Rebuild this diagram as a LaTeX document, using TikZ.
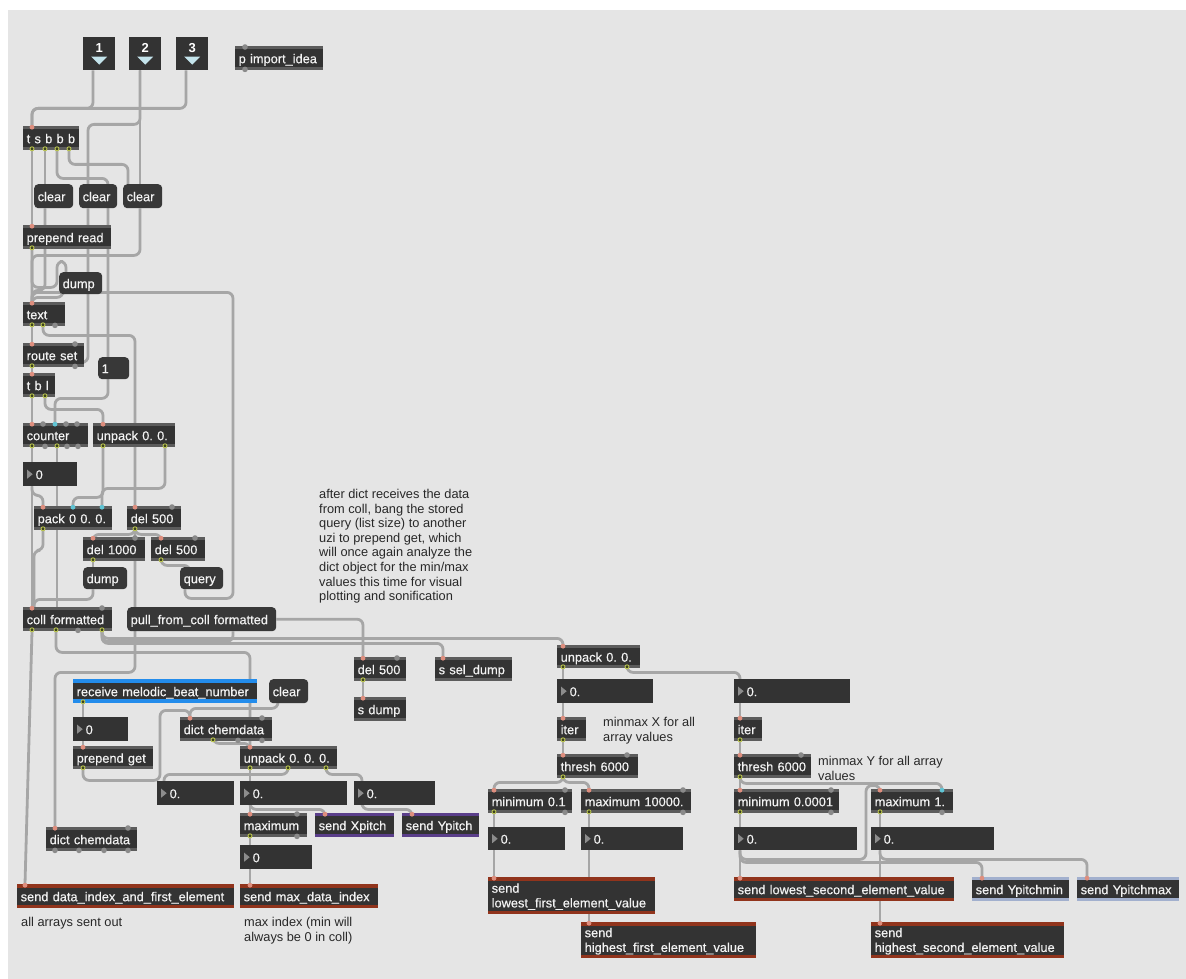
\documentclass[tikz,border=0pt]{standalone}
\usepackage{fontspec}
\setmainfont{Liberation Sans}
\newfontfamily\patchfont{Liberation Sans}[FakeBold=0.45]
\usepackage{tikz}
\definecolor{canvas_gray}{RGB}{229,229,229}
\definecolor{box_dark}{RGB}{51,51,51}
\definecolor{msg_dark}{RGB}{56,56,56}
\definecolor{box_text}{RGB}{242,242,242}
\definecolor{strip_gray}{RGB}{92,92,92}
\definecolor{cord_gray}{RGB}{166,166,166}
\definecolor{send_red}{RGB}{145,52,28}
\definecolor{recv_blue}{RGB}{35,140,235}
\definecolor{pitch_purple}{RGB}{90,62,138}
\definecolor{ypitch_blue}{RGB}{162,176,206}
\definecolor{hot_in}{RGB}{222,142,126}
\definecolor{cold_in}{RGB}{96,196,212}
\definecolor{out_green}{RGB}{188,198,82}
\definecolor{out_dark}{RGB}{60,66,30}
\definecolor{port_gray}{RGB}{138,138,138}
\definecolor{tri_cyan}{RGB}{196,228,236}
\definecolor{tri_gray}{RGB}{140,140,140}
\definecolor{cmt_text}{RGB}{40,40,40}
\pgfdeclarelayer{canvas}
\pgfdeclarelayer{cords}
\pgfsetlayers{canvas,cords,main}
\newcommand{\boxstrips}[2]{%
  \fill[#1] (path picture bounding box.north west) rectangle ([yshift=-#2]path picture bounding box.north east);
  \fill[#1] (path picture bounding box.south west) rectangle ([yshift=#2]path picture bounding box.south east);}
\frenchspacing

\begin{document}
\begin{tikzpicture}[x=1pt,y=-1pt]
    \tikzstyle{patchbox}=[anchor=north west, inner xsep=3.5pt, inner ysep=0pt, minimum height=24pt, text height=11.5pt, text depth=1.5pt, align=left, text=box_text, font=\patchfont\fontsize{12.8}{14.7}\selectfont\frenchspacing]
    \tikzstyle{obj}=[patchbox, fill=box_dark, path picture={\boxstrips{strip_gray}{3pt}}]
    \tikzstyle{msg}=[patchbox, fill=msg_dark, rounded corners=4pt]
    \tikzstyle{num}=[patchbox, fill=box_dark, execute at begin node={\hspace*{9pt}}, path picture={\fill[tri_gray] ([xshift=4pt,yshift=4.5pt]path picture bounding box.west) -- ([xshift=4pt,yshift=-4.5pt]path picture bounding box.west) -- ([xshift=9.5pt]path picture bounding box.west) -- cycle;}]
    \tikzstyle{sendbox}=[patchbox, fill=box_dark, path picture={\boxstrips{send_red}{3.5pt}}]
    \tikzstyle{recvbox}=[patchbox, fill=box_dark, path picture={\boxstrips{recv_blue}{4pt}}]
    \tikzstyle{pitchbox}=[patchbox, fill=box_dark, path picture={\boxstrips{pitch_purple}{3pt}}]
    \tikzstyle{ypbox}=[patchbox, fill=box_dark, path picture={\boxstrips{ypitch_blue}{3pt}}]
    \tikzstyle{inbox}=[anchor=north west, fill=box_dark, minimum width=32pt, minimum height=33pt, inner sep=0pt, text=white, text height=10pt, text depth=13pt, font=\bfseries\fontsize{13}{14}\selectfont, path picture={\fill[tri_cyan] ([xshift=-8pt,yshift=-3pt]path picture bounding box.center) -- ([xshift=8pt,yshift=-3pt]path picture bounding box.center) -- ([yshift=-11pt]path picture bounding box.center) -- cycle;}]
    \tikzstyle{cmt}=[anchor=north west, inner sep=0pt, align=left, text=cmt_text, font=\fontsize{12.8}{14.6}\selectfont\frenchspacing]
    \tikzstyle{cord}=[draw=cord_gray, line width=2.8pt, rounded corners=6pt]

    \useasboundingbox (0,0) rectangle (1186,979);
    \begin{pgfonlayer}{canvas}
      \fill[white] (0,0) rectangle (1186,979);
      \fill[canvas_gray] (8,10) rectangle (1186,979);
    \end{pgfonlayer}

    % inlets and loading chain
    \node[inbox] (in1) at (83,37) {1};
    \node[inbox] (in2) at (129,37) {2};
    \node[inbox] (in3) at (176,37) {3};
    \node[obj, text width=81pt] (pimport) at (235,46) {p import\_idea};
    \node[obj, text width=49pt] (tsbbb) at (23,126) {t s b b b};
    \node[msg, text width=32pt] (clear1) at (34,184) {clear};
    \node[msg, text width=31pt] (clear2) at (79,184) {clear};
    \node[msg, text width=32pt] (clear3) at (123,184) {clear};
    \node[obj, text width=81pt] (prepread) at (23,225) {prepend read};
    \node[msg, text width=36pt, minimum height=22pt] (dump1) at (59,272) {dump};
    \node[obj, text width=35pt] (textobj) at (23,302) {text};
    \node[obj, text width=54pt] (routeset) at (23,343) {route set};
    \node[msg, text width=24pt, minimum height=22pt] (one) at (98,357) {1};
    \node[obj, text width=25pt] (tbl) at (23,373) {t b l};
    \node[obj, text width=58pt] (counter) at (23,423) {counter};
    \node[obj, text width=75pt] (unpack1) at (93,423) {unpack 0. 0.};
    \node[num, text width=47pt] (numcount) at (23,462) {0};
    \node[obj, text width=71pt] (pack) at (34,506) {pack 0 0. 0.};
    \node[obj, text width=47pt] (del1) at (127,506) {del 500};
    \node[obj, text width=55pt] (del1000) at (83,537) {del 1000};
    \node[obj, text width=47pt] (del2) at (151,537) {del 500};
    \node[msg, text width=37pt, minimum height=22pt] (dump2) at (83,567) {dump};
    \node[msg, text width=36pt, minimum height=22pt] (query) at (180,567) {query};
    \node[obj, text width=82pt] (coll) at (23,607) {coll formatted};
    \node[msg, text width=142pt] (pull) at (127,607) {pull\_from\_coll formatted};
    \node[cmt] (note) at (319,489) {after dict receives the data\\from coll, bang the stored\\query (list size) to another\\uzi to prepend get, which\\will once again analyze the\\dict object for the min/max\\values this time for visual\\plotting and sonification};

    % dict and index part
    \node[obj, text width=45pt] (del3) at (354,657) {del 500};
    \node[obj, text width=45pt] (sdump) at (354,697) {s dump};
    \node[obj, text width=70pt] (ssel) at (435,657) {s sel\_dump};
    \node[recvbox, text width=177pt] (recv) at (73,679) {receive melodic\_beat\_number};
    \node[msg, text width=32pt] (clear4) at (269,679) {clear};
    \node[num, text width=48pt] (numrecv) at (73,717) {0};
    \node[obj, text width=85pt] (dict1) at (180,717) {dict chemdata};
    \node[obj, text width=73pt, minimum height=23pt] (prepget) at (73,746) {prepend get};
    \node[obj, text width=90pt, minimum height=23pt] (unpack3) at (240,746) {unpack 0. 0. 0.};
    \node[num, text width=70pt] (numa) at (157,781) {0.};
    \node[num, text width=100pt] (numb) at (240,781) {0.};
    \node[num, text width=74pt] (numc) at (354,781) {0.};
    \node[obj, text width=60pt] (maximum) at (240,813) {maximum};
    \node[pitchbox, text width=72pt] (sxpitch) at (315,813) {send Xpitch};
    \node[pitchbox, text width=70pt] (sypitch) at (402,813) {send Ypitch};
    \node[obj, text width=84pt] (dict2) at (46,827) {dict chemdata};
    \node[num, text width=65pt] (nummax) at (240,845) {0};
    \node[sendbox, text width=210pt] (sdata) at (17,884) {send data\_index\_and\_first\_element};
    \node[sendbox, text width=131pt] (smax) at (240,884) {send max\_data\_index};
    \node[cmt] (note2) at (21,917.5) {all arrays sent out};
    \node[cmt] (note3) at (244,917) {max index (min will\\always be 0 in coll)};

    % min/max of both elements
    \node[obj, text width=76pt, minimum height=23pt] (unpack2) at (557,645) {unpack 0. 0.};
    \node[num, text width=89pt] (numx) at (557,679) {0.};
    \node[num, text width=109pt] (numy) at (734,679) {0.};
    \node[obj, text width=22pt] (iterx) at (557,717) {iter};
    \node[obj, text width=21pt] (itery) at (734,717) {iter};
    \node[obj, text width=74pt] (threshx) at (557,754) {thresh 6000};
    \node[obj, text width=70pt] (threshy) at (734,754) {thresh 6000};
    \node[cmt] (notex) at (603,717.5) {minmax X for all\\array values};
    \node[cmt] (notey) at (818,756.5) {minmax Y for all array\\values};
    \node[obj, text width=77pt] (minx) at (488,789) {minimum 0.1};
    \node[obj, text width=103pt] (maxx) at (581,789) {maximum 10000.};
    \node[obj, text width=98pt] (miny) at (734,789) {minimum 0.0001};
    \node[obj, text width=75pt] (maxy) at (871,789) {maximum 1.};
    \node[num, text width=70pt, minimum height=23pt] (numminx) at (488,827) {0.};
    \node[num, text width=95pt, minimum height=23pt] (nummaxx) at (581,827) {0.};
    \node[num, text width=116pt, minimum height=23pt] (numminy) at (734,827) {0.};
    \node[num, text width=116pt, minimum height=23pt] (nummaxy) at (871,827) {0.};
    \node[sendbox, text width=160pt, minimum height=37pt, text depth=17.5pt] (slowx) at (488,877) {send\\lowest\_first\_element\_value};
    \node[sendbox, text width=168pt, minimum height=36pt, text depth=17.5pt] (shighx) at (581,922) {send\\highest\_first\_element\_value};
    \node[sendbox, text width=213pt] (slowy) at (734,877) {send lowest\_second\_element\_value};
    \node[ypbox, text width=90pt] (sypmin) at (972,877) {send Ypitchmin};
    \node[ypbox, text width=95pt] (sypmax) at (1077,877) {send Ypitchmax};
    \node[sendbox, text width=186pt, minimum height=36pt, text depth=17.5pt] (shighy) at (871,922) {send\\highest\_second\_element\_value};

    \begin{pgfonlayer}{cords}
    \draw[cord] ([xshift=10pt]in1.south west) -- ++(0,38) -| ([xshift=9pt]tsbbb.north west);
    \draw[cord] ([xshift=10pt]in3.south west) -- ++(0,38) -| ([xshift=9pt]tsbbb.north west);
    \draw[cord] ([xshift=11pt]in2.south west) -- ++(0,54) -| ([xshift=9pt]clear2.north west);
    \draw[cord] ([xshift=11pt]in2.south west) -- ([xshift=17pt]clear3.north west);
    \draw[cord] ([xshift=9pt]tsbbb.south west) -- ([xshift=9pt]prepread.north west);
    \draw[cord] ([xshift=22pt]tsbbb.south west) -- ([xshift=11pt]clear1.north west);
    \draw[cord] ([xshift=34pt]tsbbb.south west) -- ++(0,28) -- ++(51,0) -- ++(0,220) -| ([xshift=32pt]counter.north west);
    \draw[cord] ([xshift=46pt]tsbbb.south west) -- ++(0,14) -| ([xshift=5pt]clear3.north west);
    \draw[cord] ([xshift=11pt]clear1.south west) -- ++(0,82) -| ([xshift=9pt]textobj.north west);
    \draw[cord] ([xshift=9pt]clear2.south west) |- ([xshift=-4pt,yshift=5pt]routeset.south east);
    \draw[cord] ([xshift=17pt]clear3.south west) -- ++(0,47) -| ([xshift=9pt]textobj.north west);
    \draw[cord] ([xshift=9pt]prepread.south west) -- ([xshift=9pt]textobj.north west);
    \draw[cord] ([xshift=9pt]prepread.south west) -- ++(0,38) -- ++(25,0) -- ++(0,-26) -| ([xshift=7pt]dump1.north west);
    \draw[cord] ([xshift=4pt]dump1.south west) -- ++(0,3) -| ([xshift=9pt]textobj.north west);
    \draw[cord] ([xshift=9pt]textobj.south west) -- ([xshift=9pt]routeset.north west);
    \draw[cord] ([xshift=20pt]textobj.south west) -- ++(0,9) -| ([xshift=8pt]del1.north west);
    \draw[cord] ([xshift=9pt]routeset.south west) -- ([xshift=9pt]tbl.north west);
    \draw[cord] ([xshift=9pt]tbl.south west) -- ([xshift=9pt]counter.north west);
    \draw[cord] ([xshift=22pt]tbl.south west) -- ++(0,12) -| ([xshift=10pt]unpack1.north west);
    \draw[cord] ([xshift=9pt]counter.south west) -- ([xshift=9pt]coll.north west);
    \draw[cord] ([xshift=9pt]numcount.south west) -- ++(0,9) -| ([xshift=9pt]pack.north west);
    \draw[cord] ([xshift=34pt]counter.south west) -- ([xshift=34pt]coll.north west);
    \draw[cord] ([xshift=10pt]unpack1.south west) -- ++(0,50) -| ([xshift=39pt]pack.north west);
    \draw[cord] ([xshift=72pt]unpack1.south west) -- ++(0,41) -| ([xshift=68pt]pack.north west);
    \draw[cord] ([xshift=9pt]pack.south west) -- ++(0,20) -| ([xshift=11pt]coll.north west);
    \draw[cord] ([xshift=8pt]del1.south west) -- ++(0,4) -| ([xshift=10pt]del1000.north west);
    \draw[cord] ([xshift=8pt]del1.south west) -- ++(0,4) -| ([xshift=10pt]del2.north west);
    \draw[cord] ([xshift=8pt]del1.south west) -- ++(0,142) -| ([xshift=9pt]dict2.north west);
    \draw[cord] ([xshift=10pt]del1000.south west) -- ([xshift=10pt]dump2.north west);
    \draw[cord] ([xshift=10pt]dump2.south west) -- ++(0,10) -| ([xshift=11pt]coll.north west);
    \draw[cord] ([xshift=10pt]del2.south west) -- ++(0,4) -| ([xshift=10pt]query.north west);
    \draw[cord] ([xshift=5pt]query.south west) -- ++(0,9) -- ++(48,0) -- ++(0,-306) -| ([xshift=9pt]textobj.north west);
    \draw[cord] ([xshift=9pt]coll.south west) -- ([xshift=8pt]sdata.north west);
    \draw[cord] ([xshift=33pt]coll.south west) -- ++(0,21) -| ([xshift=10pt]unpack3.north west);
    \draw[cord] ([xshift=79pt]coll.south west) -- ++(0,7) -| ([xshift=6pt]unpack2.north west);
    \draw[cord] ([xshift=79pt]coll.south west) -- ++(0,12) -| ([xshift=8pt]ssel.north west);
    \draw[cord] ([xshift=79pt]coll.south west) -- ++(0,10) -| ([xshift=106pt]pull.south west);
    \draw[cord] (pull.east) -| ([xshift=9pt]del3.north west);
    \draw[cord] ([xshift=9pt]del3.south west) -- ([xshift=9pt]sdump.north west);
    \draw[cord] ([xshift=10pt]recv.south west) -- ([xshift=10pt]numrecv.north west);
    \draw[cord] ([xshift=10pt]numrecv.south west) -- ([xshift=10pt]prepget.north west);
    \draw[cord] ([xshift=10pt]prepget.south west) -- ++(0,11) -- ++(77,0) -- ++(0,-70) -| ([xshift=10pt]dict1.north west);
    \draw[cord] ([xshift=9pt]clear4.south west) -- ++(0,5) -| ([xshift=10pt]dict1.north west);
    \draw[cord] ([xshift=33pt]dict1.south west) -- ++(0,2) -| ([xshift=10pt]unpack3.north west);
    \draw[cord] ([xshift=10pt]unpack3.south west) -- ([xshift=10pt]numb.north west);
    \draw[cord] ([xshift=48pt]unpack3.south west) -- ++(0,5) -| ([xshift=7pt]numa.north west);
    \draw[cord] ([xshift=86pt]unpack3.south west) -- ++(0,5) -| ([xshift=8pt]numc.north west);
    \draw[cord] ([xshift=10pt]numb.south west) -- ([xshift=10pt]maximum.north west);
    \draw[cord] ([xshift=10pt]numb.south west) -- ++(0,4) -| ([xshift=10pt]sxpitch.north west);
    \draw[cord] ([xshift=8pt]numc.south west) -- ++(0,4) -| ([xshift=10pt]sypitch.north west);
    \draw[cord] ([xshift=10pt]maximum.south west) -- ([xshift=10pt]nummax.north west);
    \draw[cord] ([xshift=10pt]nummax.south west) -- ([xshift=10pt]smax.north west);
    \draw[cord] ([xshift=6pt]unpack2.south west) -- ([xshift=6pt]numx.north west);
    \draw[cord] ([xshift=6pt]numx.south west) -- ([xshift=6pt]iterx.north west);
    \draw[cord] ([xshift=6pt]iterx.south west) -- ([xshift=6pt]threshx.north west);
    \draw[cord] ([xshift=70pt]unpack2.south west) -- ++(0,4) -| ([xshift=6pt]numy.north west);
    \draw[cord] ([xshift=6pt]numy.south west) -- ([xshift=6pt]itery.north west);
    \draw[cord] ([xshift=6pt]itery.south west) -- ([xshift=6pt]threshy.north west);
    \draw[cord] ([xshift=6pt]threshx.south west) -- ++(0,4) -| ([xshift=6pt]minx.north west);
    \draw[cord] ([xshift=6pt]threshx.south west) -- ++(0,4) -| ([xshift=8pt]maxx.north west);
    \draw[cord] ([xshift=6pt]minx.south west) -- ([xshift=6pt]slowx.north west);
    \draw[cord] ([xshift=8pt]maxx.south west) -- ([xshift=8pt]shighx.north west);
    \draw[cord] ([xshift=6pt]threshy.south west) -- ([xshift=6pt]miny.north west);
    \draw[cord] ([xshift=6pt]threshy.south west) -- ++(0,5) -| ([xshift=71pt]maxy.north west);
    \draw[cord] ([xshift=6pt]numminy.south west) -- ++(0,9) -- ++(126,0) -- ++(0,-74) -| ([xshift=9pt]maxy.north west);
    \draw[cord] ([xshift=6pt]miny.south west) -- ([xshift=6pt]slowy.north west);
    \draw[cord] ([xshift=6pt]numminy.south west) -- ++(0,12) -| ([xshift=10pt]sypmin.north west);
    \draw[cord] ([xshift=9pt]maxy.south west) -- ([xshift=9pt]shighy.north west);
    \draw[cord] ([xshift=9pt]nummaxy.south west) -- ++(0,9) -| ([xshift=10pt]sypmax.north west);
    \end{pgfonlayer}

    % ports
    \foreach \n/\d in {tsbbb/9, prepread/9, textobj/9, routeset/9, tbl/9, counter/9, unpack1/10, pack/9, del1/8, del1000/10, del2/10, coll/9, del3/9, sdump/9, ssel/8, prepget/10, dict1/10, unpack3/10, maximum/10, sxpitch/10, sypitch/10, dict2/9, sdata/8, smax/10, unpack2/6, iterx/6, itery/6, threshx/6, threshy/6, minx/6, maxx/8, miny/6, maxy/9, slowx/6, shighx/8, slowy/6, sypmin/10, sypmax/10, shighy/9}
      \fill[hot_in] ([xshift=\d pt,yshift=-1.2pt]\n.north west) circle (2.4pt);
    \foreach \n/\d in {counter/32, pack/39, pack/68, maxy/71}
      \fill[cold_in] ([xshift=\d pt,yshift=-1.2pt]\n.north west) circle (2.4pt);
    \foreach \n/\d in {pimport/10, routeset/52, counter/20, counter/43, counter/54, del1/45, del1000/52, del2/44, del3/43, dict1/82, dict2/82, maximum/57, threshx/70, threshy/67, minx/77, maxx/102, miny/97, coll/79}
      \fill[port_gray] ([xshift=\d pt,yshift=-1pt]\n.north west) circle (2.8pt);
    \foreach \n/\d in {tsbbb/9, tsbbb/22, tsbbb/34, tsbbb/46, prepread/9, textobj/9, textobj/20, routeset/9, tbl/9, tbl/22, counter/9, counter/34, unpack1/10, unpack1/72, pack/9, del1/8, del1000/10, del2/10, coll/9, coll/33, coll/79, del3/9, recv/10, prepget/10, dict1/33, unpack3/10, unpack3/48, unpack3/86, maximum/10, unpack2/6, unpack2/70, iterx/6, itery/6, threshx/6, threshy/6, minx/6, maxx/8, miny/6, maxy/9}
      \filldraw[fill=out_dark, draw=out_green, line width=0.9pt] ([xshift=\d pt,yshift=1.6pt]\n.south west) circle (2pt);
    \foreach \n/\d in {pimport/10, textobj/32, routeset/52, counter/22, counter/44, counter/55, coll/55, dict1/58, dict1/82, dict2/9, dict2/33, dict2/58, dict2/82, maximum/57, minx/77, maxx/102, miny/97, maxy/71}
      \fill[port_gray] ([xshift=\d pt,yshift=1pt]\n.south west) circle (2.8pt);
\end{tikzpicture}
\end{document}
